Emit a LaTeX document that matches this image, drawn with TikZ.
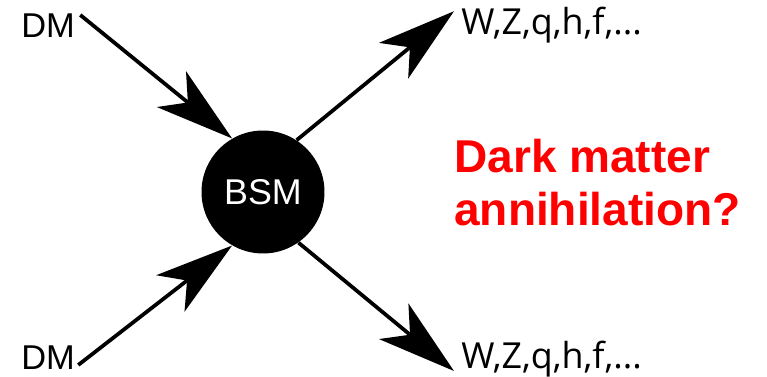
\documentclass[tikz,border=0pt]{standalone}
\usepackage{fontspec}
\setmainfont{Liberation Sans}
\newfontfamily\opensans{Open Sans}
\usetikzlibrary{arrows.meta, positioning, calc}
\definecolor{annired}{HTML}{FF0000}

\begin{document}
\begin{tikzpicture}[x=0.02cm, y=-0.02cm, every node/.append style={inner sep=0pt, align=left},
	line/.style={line width=0.075cm, -{Stealth[length=1.56cm, width=0.92cm, inset=0.42cm]}},
	particle/.style={anchor=base west, font=\fontsize{19.6}{23}\selectfont}]
	\useasboundingbox (0,0) rectangle (767,377);
	\node[circle, fill=black, minimum size=2.46cm, text=white, font=\fontsize{20.4}{24}\selectfont] (bsm) at (263,192) {BSM};
	\node[particle] (dm1) at (21,38) {DM};
	\node[particle] (dm2) at (21,370) {DM};
	\node[particle, font=\opensans\fontsize{20.4}{24}\selectfont] (wz1) at (461,35) {W,Z,q,h,f,...};
	\node[particle, font=\opensans\fontsize{20.4}{24}\selectfont] (wz2) at (461,369) {W,Z,q,h,f,...};
	\node[particle, text=annired, font=\bfseries\fontsize{26.2}{30.2}\selectfont] (question) at (454,226) {Dark matter\\annihilation?};
		\draw[line] ([shift={(5,1)}]dm1.north east) -- (bsm.120);
		\draw[line] ([shift={(3,-5)}]dm2.base east) -- (bsm.240);
		\draw[line] (bsm.57) -- ([shift={(-7,4)}]wz1.north west);
		\draw[line] (bsm.-55) -- ([shift={(-7,2)}]wz2.base west);
\end{tikzpicture}
\end{document}
